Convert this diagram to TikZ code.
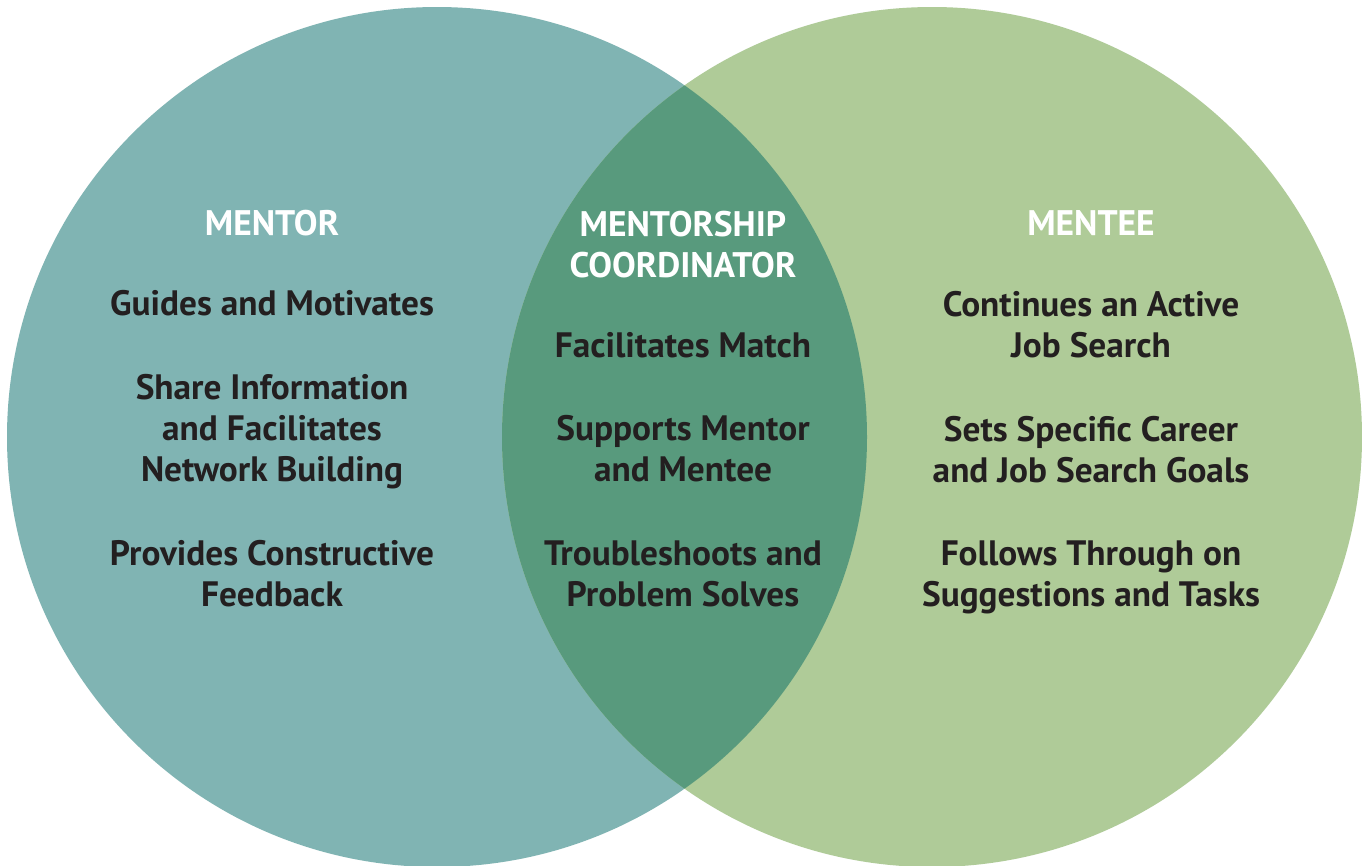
\documentclass[tikz,border=0pt]{standalone}
\usepackage{fontspec}
\setmainfont{PT Sans}
\definecolor{teal}{HTML}{80B4B3}
\definecolor{sage}{HTML}{AFCB98}
\definecolor{lens}{HTML}{589A7D}
\definecolor{ink}{HTML}{231F20}
\begin{document}
\begin{tikzpicture}[x=1pt,y=-1pt,
  txt/.style={align=center,inner sep=0pt,anchor=south,text depth=0pt},
  head/.style={txt,text=white,font=\fontsize{35.5}{41.5}\selectfont\bfseries},
  body/.style={txt,text=ink,font=\fontsize{35.3}{41.3}\selectfont\bfseries}]
\useasboundingbox (0,0) rectangle (1362,865);
\fill[white] (0,0) rectangle (1362,865);
\fill[teal] (437,437) circle[radius=430];
\fill[sage] (932,437) circle[radius=430];
\begin{scope}
\clip (437,437) circle[radius=430];
\fill[lens] (932,437) circle[radius=430];
\end{scope}
% left
\node[head] (mentor) at (272,236) {MENTOR};
\node[body] (l1) at (272,316) {Guides and Motivates};
\node[body] (l2) at (272,482) {Share Information\\and Facilitates\\Network Building};
\node[body] (l3) at (272,607) {Provides Constructive\\Feedback};
% middle
\node[head] (coord) at (683,278) {MENTORSHIP\\COORDINATOR};
\node[body] (m1) at (683,358) {Facilitates Match};
\node[body] (m2) at (683,482) {Supports Mentor\\and Mentee};
\node[body] (m3) at (683,607) {Troubleshoots and\\Problem Solves};
% right
\node[head] (mentee) at (1091,236) {MENTEE};
\node[body] (r1) at (1091,358) {Continues an Active\\Job Search};
\node[body] (r2) at (1091,483) {Sets Specific Career\\and Job Search Goals};
\node[body] (r3) at (1091,607) {Follows Through on\\Suggestions and Tasks};
\end{tikzpicture}
\end{document}
